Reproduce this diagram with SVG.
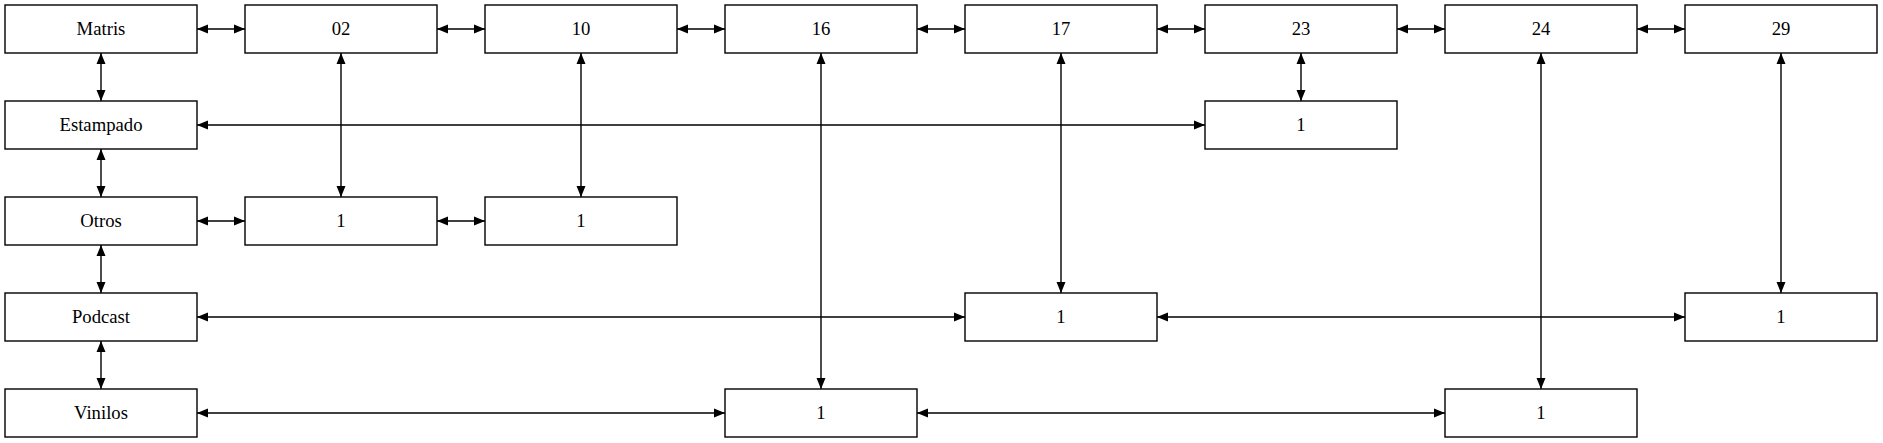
<svg xmlns="http://www.w3.org/2000/svg" width="1883" height="443" viewBox="0 0 1883 443">
<style>
.n rect{fill:#fff;stroke:#000;stroke-width:1.4}
.n text{font-family:"Liberation Serif","Times New Roman",serif;font-size:18.7px;text-anchor:middle;fill:#000}
.e line{stroke:#000;stroke-width:1.4;marker-start:url(#ah);marker-end:url(#ah)}
</style>
<defs>
<marker id="ah" markerUnits="userSpaceOnUse" markerWidth="11" markerHeight="10" refX="11" refY="5" orient="auto-start-reverse" viewBox="0 0 11 10">
<path d="M0,0.5 L11,5 L0,9.5 Z" fill="#000"/>
</marker>
</defs>
<rect width="1883" height="443" fill="#fff"/>
<g class="e" id="edges">
<line x1="197" y1="29" x2="245" y2="29"/>
<line x1="437" y1="29" x2="485" y2="29"/>
<line x1="677" y1="29" x2="725" y2="29"/>
<line x1="917" y1="29" x2="965" y2="29"/>
<line x1="1157" y1="29" x2="1205" y2="29"/>
<line x1="1397" y1="29" x2="1445" y2="29"/>
<line x1="1637" y1="29" x2="1685" y2="29"/>
<line x1="101" y1="53" x2="101" y2="101"/>
<line x1="101" y1="149" x2="101" y2="197"/>
<line x1="101" y1="245" x2="101" y2="293"/>
<line x1="101" y1="341" x2="101" y2="389"/>
<line x1="197" y1="125" x2="1205" y2="125"/>
<line x1="1301" y1="53" x2="1301" y2="101"/>
<line x1="197" y1="221" x2="245" y2="221"/>
<line x1="437" y1="221" x2="485" y2="221"/>
<line x1="341" y1="53" x2="341" y2="197"/>
<line x1="581" y1="53" x2="581" y2="197"/>
<line x1="821" y1="53" x2="821" y2="389"/>
<line x1="1061" y1="53" x2="1061" y2="293"/>
<line x1="197" y1="317" x2="965" y2="317"/>
<line x1="1157" y1="317" x2="1685" y2="317"/>
<line x1="1781" y1="53" x2="1781" y2="293"/>
<line x1="197" y1="413" x2="725" y2="413"/>
<line x1="917" y1="413" x2="1445" y2="413"/>
<line x1="1541" y1="53" x2="1541" y2="389"/>
</g>
<g class="n" id="matris"><rect x="5" y="5" width="192" height="48"/><text x="101" y="34.5">Matris</text></g>
<g class="n" id="c02"><rect x="245" y="5" width="192" height="48"/><text x="341" y="34.5">02</text></g>
<g class="n" id="c10"><rect x="485" y="5" width="192" height="48"/><text x="581" y="34.5">10</text></g>
<g class="n" id="c16"><rect x="725" y="5" width="192" height="48"/><text x="821" y="34.5">16</text></g>
<g class="n" id="c17"><rect x="965" y="5" width="192" height="48"/><text x="1061" y="34.5">17</text></g>
<g class="n" id="c23"><rect x="1205" y="5" width="192" height="48"/><text x="1301" y="34.5">23</text></g>
<g class="n" id="c24"><rect x="1445" y="5" width="192" height="48"/><text x="1541" y="34.5">24</text></g>
<g class="n" id="c29"><rect x="1685" y="5" width="192" height="48"/><text x="1781" y="34.5">29</text></g>
<g class="n" id="estampado"><rect x="5" y="101" width="192" height="48"/><text x="101" y="130.5">Estampado</text></g>
<g class="n" id="estampado_23"><rect x="1205" y="101" width="192" height="48"/><text x="1301" y="130.5">1</text></g>
<g class="n" id="otros"><rect x="5" y="197" width="192" height="48"/><text x="101" y="226.5">Otros</text></g>
<g class="n" id="otros_02"><rect x="245" y="197" width="192" height="48"/><text x="341" y="226.5">1</text></g>
<g class="n" id="otros_10"><rect x="485" y="197" width="192" height="48"/><text x="581" y="226.5">1</text></g>
<g class="n" id="podcast"><rect x="5" y="293" width="192" height="48"/><text x="101" y="322.5">Podcast</text></g>
<g class="n" id="podcast_17"><rect x="965" y="293" width="192" height="48"/><text x="1061" y="322.5">1</text></g>
<g class="n" id="podcast_29"><rect x="1685" y="293" width="192" height="48"/><text x="1781" y="322.5">1</text></g>
<g class="n" id="vinilos"><rect x="5" y="389" width="192" height="48"/><text x="101" y="418.5">Vinilos</text></g>
<g class="n" id="vinilos_16"><rect x="725" y="389" width="192" height="48"/><text x="821" y="418.5">1</text></g>
<g class="n" id="vinilos_24"><rect x="1445" y="389" width="192" height="48"/><text x="1541" y="418.5">1</text></g>
</svg>
